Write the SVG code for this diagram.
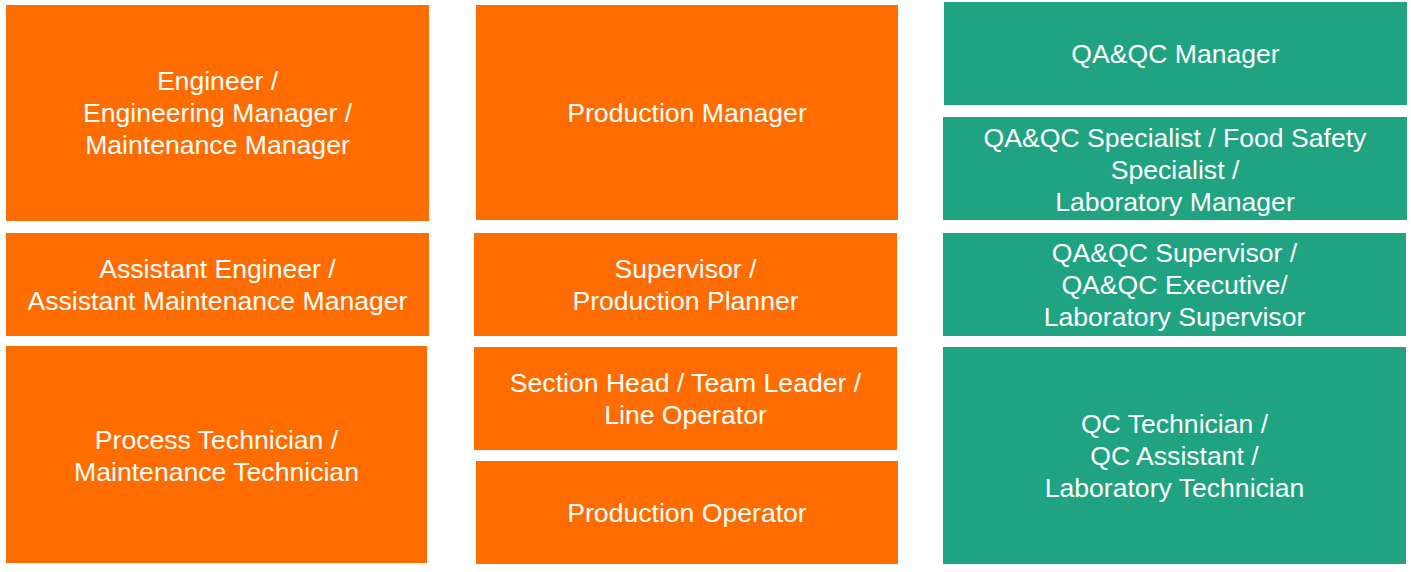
<svg xmlns="http://www.w3.org/2000/svg" width="1411" height="572" viewBox="0 0 1411 572">
<style>
.o{fill:#FF6D00}
.g{fill:#1FA380}
text{font-family:"Liberation Sans",Arial,sans-serif;font-size:26.6px;fill:#FFFFFF;text-anchor:middle}
</style>
<rect width="1411" height="572" fill="#FFFFFF"/>
<g id="engineer">
<rect class="o" x="6" y="5" width="423" height="216"/>
<text x="217.5" y="89.5">Engineer /</text>
<text x="217.5" y="121.5">Engineering Manager /</text>
<text x="217.5" y="153.5">Maintenance Manager</text>
</g>
<g id="assistant-engineer">
<rect class="o" x="6" y="233" width="423" height="103"/>
<text x="217.5" y="277.5">Assistant Engineer /</text>
<text x="217.5" y="309.5">Assistant Maintenance Manager</text>
</g>
<g id="process-technician">
<rect class="o" x="6" y="346" width="421" height="217"/>
<text x="216.5" y="448.5">Process Technician /</text>
<text x="216.5" y="480.5">Maintenance Technician</text>
</g>
<g id="production-manager">
<rect class="o" x="476" y="5" width="422" height="215"/>
<text x="687" y="121.5">Production Manager</text>
</g>
<g id="supervisor">
<rect class="o" x="474" y="233" width="423" height="103"/>
<text x="685.5" y="277.5">Supervisor /</text>
<text x="685.5" y="309.5">Production Planner</text>
</g>
<g id="section-head">
<rect class="o" x="474" y="347" width="423" height="103"/>
<text x="685.5" y="391.5">Section Head / Team Leader /</text>
<text x="685.5" y="423.5">Line Operator</text>
</g>
<g id="production-operator">
<rect class="o" x="476" y="461" width="422" height="103"/>
<text x="687" y="521.5">Production Operator</text>
</g>
<g id="qaqc-manager">
<rect class="g" x="944" y="2" width="463" height="103"/>
<text x="1175.5" y="62.5">QA&amp;QC Manager</text>
</g>
<g id="qaqc-specialist">
<rect class="g" x="943" y="117" width="464" height="103"/>
<text x="1175" y="146.5">QA&amp;QC Specialist / Food Safety</text>
<text x="1175" y="178.5">Specialist /</text>
<text x="1175" y="210.5">Laboratory Manager</text>
</g>
<g id="qaqc-supervisor">
<rect class="g" x="943" y="233" width="463" height="103"/>
<text x="1174.5" y="261.5">QA&amp;QC Supervisor /</text>
<text x="1174.5" y="293.5">QA&amp;QC Executive/</text>
<text x="1174.5" y="325.5">Laboratory Supervisor</text>
</g>
<g id="qc-technician">
<rect class="g" x="943" y="347" width="463" height="217"/>
<text x="1174.5" y="432.5">QC Technician /</text>
<text x="1174.5" y="464.5">QC Assistant /</text>
<text x="1174.5" y="496.5">Laboratory Technician</text>
</g>
<g id="connectors"/>
</svg>
